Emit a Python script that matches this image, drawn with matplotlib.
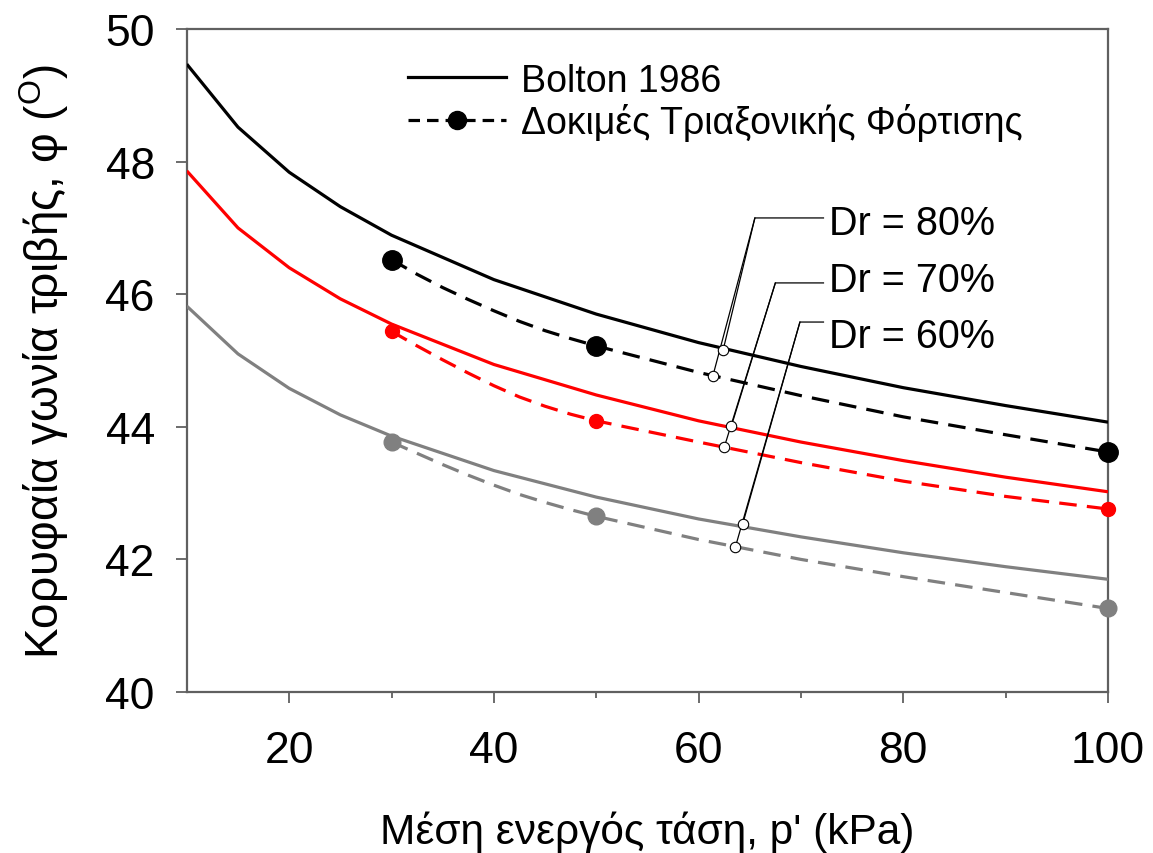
import numpy as np
import matplotlib
matplotlib.use("Agg")
import matplotlib.pyplot as plt
from matplotlib.lines import Line2D

plt.rcParams['font.family'] = ['Liberation Sans', 'DejaVu Sans']
plt.rcParams['mathtext.fontset'] = 'custom'
plt.rcParams['mathtext.rm'] = 'Liberation Sans'
plt.rcParams['mathtext.sf'] = 'Liberation Sans'

# Bolton 1986 curves
p_bolton = [10, 15, 20, 25, 30, 40, 50, 60, 70, 80, 90, 100]
bolton_80 = [49.47, 48.52, 47.84, 47.32, 46.89, 46.22, 45.70, 45.27, 44.91, 44.59, 44.32, 44.07]
bolton_70 = [47.86, 47.00, 46.40, 45.93, 45.55, 44.94, 44.48, 44.09, 43.77, 43.49, 43.24, 43.02]
bolton_60 = [45.82, 45.10, 44.58, 44.18, 43.86, 43.34, 42.94, 42.61, 42.34, 42.10, 41.89, 41.70]

# triaxial tests - measured points
p_tests = [30, 50, 100]
tests_80 = [46.52, 45.22, 43.62]
tests_70 = [45.44, 44.09, 42.76]
tests_60 = [43.77, 42.65, 41.26]

# dashed connecting curves
p_dash = [30, 32.5, 35, 37.5, 40, 42.5, 45, 47.5, 50, 60, 70, 80, 90, 100]
dash_80 = [46.52, 46.30, 46.10, 45.92, 45.75, 45.59, 45.45, 45.33, 45.22, 44.82, 44.47, 44.15, 43.88, 43.62]
dash_70 = [45.44, 45.22, 45.01, 44.81, 44.62, 44.45, 44.31, 44.19, 44.09, 43.77, 43.46, 43.18, 42.95, 42.76]
dash_60 = [43.77, 43.60, 43.43, 43.27, 43.12, 42.98, 42.86, 42.75, 42.65, 42.30, 42.00, 41.74, 41.50, 41.26]

# Dr labels: text, elbow of leader, points on the solid / dashed curves
dr_labels = ['Dr = 80%', 'Dr = 70%', 'Dr = 60%']
label_base_y = [46.91, 46.05, 45.21]
elbow_x = [65.5, 67.5, 69.9]
elbow_y = [47.15, 46.17, 45.58]
solid_pt_x = [62.4, 63.2, 64.3]
solid_pt_y = [45.16, 44.01, 42.53]
dash_pt_x = [61.4, 62.5, 63.6]
dash_pt_y = [44.77, 43.69, 42.19]

colors = ['black', '#ff0000', '#808080']
marker_sizes = [14, 10, 12]

fig = plt.figure(figsize=(11.53, 8.54), dpi=100)
ax = fig.add_axes([0.162, 0.1885, 0.799, 0.7764])

solids = [bolton_80, bolton_70, bolton_60]
tests = [tests_80, tests_70, tests_60]
dashes = [dash_80, dash_70, dash_60]

for sol, tst, dsh, c, ms in zip(solids, tests, dashes, colors, marker_sizes):
    ax.plot(p_bolton, sol, color=c, lw=2.3, solid_capstyle='butt', zorder=3)
    ax.plot(p_dash, dsh, color=c, lw=2.3, dashes=(5.5, 3.2), zorder=3)
    ax.plot(p_tests, tst, 'o', color=c, ms=ms, clip_on=False, zorder=6)

# leader lines with open circles
for i in range(3):
    ax.plot([72.2, elbow_x[i], solid_pt_x[i]], [elbow_y[i], elbow_y[i], solid_pt_y[i]],
            color='black', lw=0.9, zorder=4)
    ax.plot([elbow_x[i], dash_pt_x[i]], [elbow_y[i], dash_pt_y[i]],
            color='black', lw=0.9, zorder=4)
    ax.plot([solid_pt_x[i], dash_pt_x[i]], [solid_pt_y[i], dash_pt_y[i]], 'o',
            mfc='white', mec='black', mew=0.8, ms=7.5, zorder=7)
    ax.text(72.7, label_base_y[i], dr_labels[i], fontsize=28.5, va='baseline', ha='left')

ax.set_xlim(10, 100)
ax.set_ylim(40, 50)
ax.set_xticks([20, 40, 60, 80, 100])
ax.set_xticks([30, 50, 70, 90], minor=True)
ax.set_yticks([40, 42, 44, 46, 48, 50])

for s in ax.spines.values():
    s.set_color('#606060')
    s.set_linewidth(1.6)

ax.tick_params(axis='both', which='major', direction='out', length=8, width=1.3,
               color='#606060', labelsize=32, pad=15)
ax.tick_params(axis='x', which='major', pad=19)
ax.tick_params(axis='x', which='minor', direction='out', length=4, width=1.3, color='#606060')

ax.set_xlabel("Μέση ενεργός τάση, p' (kPa)", fontsize=30.5, labelpad=29)
ax.set_ylabel(r"Κορυφαία γωνία τριβής, φ ($^{\mathrm{O}}$)", fontsize=33, labelpad=25)

handles = [
    Line2D([], [], color='black', lw=2.3),
    Line2D([], [], color='black', lw=2.3, dashes=(3.6, 2.2), marker='o', ms=13),
]
ax.legend(handles, ['Bolton 1986', 'Δοκιμές Τριαξονικής Φόρτισης'], loc='upper left',
          bbox_to_anchor=(0.224, 0.972), frameon=False, fontsize=27,
          handlelength=2.6, handletextpad=0.4, labelspacing=0.12, borderaxespad=0)

fig.savefig('out.png', dpi=100)
